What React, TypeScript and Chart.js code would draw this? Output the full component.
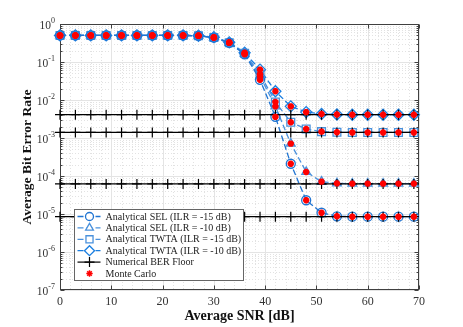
import React, { useEffect, useRef } from "react";
import { Chart, registerables } from "chart.js";
import { drawPoint } from "chart.js/helpers";

Chart.register(...registerables);

// ---------------- data ----------------
const snr = [0, 3, 6, 9, 12, 15, 18, 21, 24, 27, 30, 33, 36, 39, 42, 45, 48, 51, 54, 57, 60, 63, 66, 69];

const berSel15 = [0.5, 0.5, 0.5, 0.5, 0.5, 0.5, 0.5, 0.5, 0.5, 0.49, 0.44, 0.32, 0.16, 0.034, 3.6e-3, 2.1e-4, 2.3e-5, 1.08e-5, 8.7e-6, 8.5e-6, 8.5e-6, 8.5e-6, 8.5e-6, 8.5e-6];
const berSel10 = [0.5, 0.5, 0.5, 0.5, 0.5, 0.5, 0.5, 0.5, 0.5, 0.49, 0.44, 0.32, 0.165, 0.042, 6.8e-3, 7.1e-4, 1.28e-4, 7.1e-5, 6.4e-5, 6.3e-5, 6.3e-5, 6.3e-5, 6.3e-5, 6.3e-5];
const berTwta15 = [0.5, 0.5, 0.5, 0.5, 0.5, 0.5, 0.5, 0.5, 0.5, 0.49, 0.44, 0.32, 0.17, 0.048, 8.9e-3, 2.6e-3, 1.73e-3, 1.47e-3, 1.42e-3, 1.4e-3, 1.4e-3, 1.4e-3, 1.4e-3, 1.4e-3];
const berTwta10 = [0.5, 0.5, 0.5, 0.5, 0.5, 0.5, 0.5, 0.5, 0.5, 0.49, 0.45, 0.33, 0.175, 0.063, 0.017, 6.8e-3, 4.8e-3, 4.3e-3, 4.15e-3, 4.1e-3, 4.1e-3, 4.1e-3, 4.1e-3, 4.1e-3];

const floorLevels = [4.1e-3, 1.4e-3, 6.2e-5, 8.5e-6];

const xTicks = [0, 10, 20, 30, 40, 50, 60, 70];
const yDecades = [0, -1, -2, -3, -4, -5, -6, -7];

const legendLabels = [
  "Analytical SEL (ILR = -15 dB)",
  "Analytical SEL (ILR = -10 dB)",
  "Analytical TWTA (ILR = -15 dB)",
  "Analytical TWTA (ILR = -10 dB)",
  "Numerical BER Floor",
  "Monte Carlo",
];

// ---------------- styles ----------------
const FONT = '"Liberation Serif", "Times New Roman", serif';
const analyticStyles = [
  { color: "#1f74d2", pointStyle: "circle", radius: 4.5 },
  { color: "#4a91dc", pointStyle: "triangle", radius: 5 },
  { color: "#4a91dc", pointStyle: "rect", radius: 5.5 },
  { color: "#1a7ee0", pointStyle: "rectRot", radius: 5.5 },
];
const analyticSeries = [berSel15, berSel10, berTwta15, berTwta10];

const yMinor: number[] = [];
for (let e = -7; e < 0; e++) for (let m = 2; m <= 9; m++) yMinor.push(m * Math.pow(10, e));
const xMinor: number[] = [];
for (let v = 2; v < 70; v += 2) if (v % 10 !== 0) xMinor.push(v);

const matlabPlugin = {
  id: "matlabDecor",
  beforeDatasetsDraw(chart: any) {
    const { ctx, chartArea: a, scales } = chart;
    const xs = scales.x;
    const ys = scales.y;
    const hline = (y: number) => {
      const p = Math.round(y) + 0.5;
      ctx.beginPath();
      ctx.moveTo(a.left, p);
      ctx.lineTo(a.right, p);
      ctx.stroke();
    };
    const vline = (x: number) => {
      const p = Math.round(x) + 0.5;
      ctx.beginPath();
      ctx.moveTo(p, a.top);
      ctx.lineTo(p, a.bottom);
      ctx.stroke();
    };
    ctx.save();
    ctx.fillStyle = "#ffffff";
    ctx.fillRect(a.left, a.top, a.right - a.left, a.bottom - a.top);
    ctx.lineWidth = 1;
    ctx.strokeStyle = "#e2e2e2";
    ctx.setLineDash([1, 2]);
    xMinor.forEach((v) => vline(xs.getPixelForValue(v)));
    yMinor.forEach((v) => hline(ys.getPixelForValue(v)));
    ctx.setLineDash([]);
    ctx.strokeStyle = "#e4e4e4";
    xTicks.forEach((v) => vline(xs.getPixelForValue(v)));
    yDecades.forEach((e) => hline(ys.getPixelForValue(Math.pow(10, e))));

    // frame
    ctx.strokeStyle = "#404040";
    const L = Math.round(a.left) + 0.5, R = Math.round(a.right) - 0.5;
    const T = Math.round(a.top) + 0.5, B = Math.round(a.bottom) - 0.5;
    ctx.strokeRect(L, T, R - L, B - T);
    // ticks
    ctx.beginPath();
    yDecades.forEach((e) => {
      const p = Math.round(ys.getPixelForValue(Math.pow(10, e))) + 0.5;
      ctx.moveTo(L, p); ctx.lineTo(L + 4, p);
      ctx.moveTo(R, p); ctx.lineTo(R - 4, p);
    });
    yMinor.forEach((v) => {
      const p = Math.round(ys.getPixelForValue(v)) + 0.5;
      ctx.moveTo(L, p); ctx.lineTo(L + 2, p);
      ctx.moveTo(R, p); ctx.lineTo(R - 2, p);
    });
    xTicks.forEach((v) => {
      const p = Math.round(xs.getPixelForValue(v)) + 0.5;
      ctx.moveTo(p, B); ctx.lineTo(p, B - 4);
      ctx.moveTo(p, T); ctx.lineTo(p, T + 4);
    });
    ctx.stroke();

    // y tick labels 10^k
    ctx.fillStyle = "#333333";
    ctx.textBaseline = "middle";
    yDecades.forEach((e) => {
      const y = ys.getPixelForValue(Math.pow(10, e));
      const exp = e === 0 ? "0" : "-" + Math.abs(e);
      ctx.font = `8px ${FONT}`;
      const ew = ctx.measureText(exp).width;
      const right = a.left - 5;
      ctx.textAlign = "left";
      ctx.fillText(exp, right - ew, y - 3);
      ctx.font = `11.5px ${FONT}`;
      ctx.textAlign = "right";
      ctx.fillText("10", right - ew, y + 1.5);
    });
    ctx.restore();
  },
  afterDraw(chart: any) {
    const { ctx, chartArea: a } = chart;
    const bx = Math.round(a.left + 14) + 0.5;
    const by = Math.round(a.top + 185) + 0.5;
    const bw = 169;
    const bh = 71;
    ctx.save();
    ctx.fillStyle = "#ffffff";
    ctx.fillRect(bx, by, bw, bh);
    ctx.strokeStyle = "#666666";
    ctx.lineWidth = 1;
    ctx.strokeRect(bx, by, bw, bh);
    const rowH = 11.4;
    legendLabels.forEach((label, i) => {
      const cy = by + 7 + i * rowH;
      const x0 = bx + 3, x1 = bx + 26, mx = bx + 15;
      if (i < 4) {
        const st = analyticStyles[i];
        ctx.strokeStyle = st.color;
        ctx.lineWidth = 1.3;
        ctx.setLineDash([6, 3]);
        ctx.beginPath(); ctx.moveTo(x0, cy); ctx.lineTo(x1, cy); ctx.stroke();
        ctx.setLineDash([]);
        ctx.fillStyle = "#ffffff";
        drawPoint(ctx, { pointStyle: st.pointStyle, radius: st.radius - 0.5, rotation: 0, borderWidth: 1.2 } as any, mx, cy);
      } else if (i === 4) {
        ctx.strokeStyle = "#000000";
        ctx.lineWidth = 1.2;
        ctx.beginPath(); ctx.moveTo(x0, cy); ctx.lineTo(x1, cy); ctx.stroke();
        drawPoint(ctx, { pointStyle: "cross", radius: 5, rotation: 0, borderWidth: 1.2 } as any, mx, cy);
      } else {
        ctx.strokeStyle = "#ff0000";
        ctx.lineWidth = 1.5;
        drawPoint(ctx, { pointStyle: "star", radius: 3.2, rotation: 0, borderWidth: 1.5 } as any, mx, cy);
      }
      ctx.fillStyle = "#222222";
      ctx.font = `10px ${FONT}`;
      ctx.textAlign = "left";
      ctx.textBaseline = "middle";
      ctx.fillText(label, bx + 31, cy + 0.5);
    });
    ctx.restore();
  },
};

export default function App() {
  const ref = useRef<HTMLCanvasElement | null>(null);
  useEffect(() => {
    if (!ref.current) return;
    const datasets: any[] = [];
    analyticSeries.forEach((arr, i) => {
      const st = analyticStyles[i];
      datasets.push({
        label: legendLabels[i],
        data: snr.map((x, j) => ({ x, y: arr[j] })),
        borderColor: st.color,
        borderWidth: 1.3,
        borderDash: [6, 3],
        pointStyle: st.pointStyle,
        pointRadius: st.radius,
        pointBorderColor: st.color,
        pointBackgroundColor: "rgba(0,0,0,0)",
        pointBorderWidth: 1.3,
        tension: 0,
        order: 3,
        clip: false,
      });
    });
    floorLevels.forEach((lvl) => {
      datasets.push({
        label: legendLabels[4],
        data: snr.map((x) => ({ x, y: lvl })),
        borderColor: "#000000",
        borderWidth: 1.2,
        pointStyle: "cross",
        pointRadius: 5,
        pointBorderColor: "#000000",
        pointBorderWidth: 1.2,
        tension: 0,
        order: 2,
        clip: false,
      });
    });
    analyticSeries.forEach((arr) => {
      datasets.push({
        label: legendLabels[5],
        data: snr.map((x, j) => ({ x, y: arr[j] })),
        showLine: false,
        pointStyle: "star",
        pointRadius: 3.2,
        pointBorderColor: "#ff0000",
        pointBackgroundColor: "#ff0000",
        pointBorderWidth: 2.2,
        order: 1,
        clip: false,
      });
    });

    const chart = new Chart(ref.current, {
      type: "line",
      data: { datasets },
      options: {
        animation: false,
        responsive: false,
        layout: { padding: { top: 24, right: 44, left: 0, bottom: 0 } },
        plugins: { legend: { display: false }, tooltip: { enabled: false } },
        scales: {
          x: {
            type: "linear",
            min: 0,
            max: 70,
            grid: { display: false, drawTicks: false },
            border: { display: false },
            afterBuildTicks: (s: any) => {
              s.ticks = xTicks.map((v) => ({ value: v }));
            },
            ticks: {
              padding: 5,
              color: "#333333",
              font: { family: FONT, size: 12 },
              maxRotation: 0,
              autoSkip: false,
            },
            title: {
              display: true,
              text: "Average SNR [dB]",
              color: "#111111",
              font: { family: FONT, size: 14, weight: "bold" },
              padding: { top: 0, bottom: 2 },
            },
            afterFit: (s: any) => {
              s.height = 37;
            },
          },
          y: {
            type: "logarithmic",
            min: 1e-7,
            max: 1,
            grid: { display: false },
            border: { display: false },
            ticks: { display: false },
            title: {
              display: true,
              text: "Average Bit Error Rate",
              color: "#111111",
              font: { family: FONT, size: 13.5, weight: "bold" },
              padding: { top: 19, bottom: 0 },
            },
            afterFit: (s: any) => {
              s.width = 60;
            },
          },
        },
      } as any,
      plugins: [matlabPlugin as any],
    });
    return () => chart.destroy();
  }, []);

  return (
    <div style={{ position: "fixed", left: 0, top: 0, width: 463, height: 327, background: "#fff" }}>
      <canvas ref={ref} width={463} height={327} style={{ display: "block" }} />
    </div>
  );
}
